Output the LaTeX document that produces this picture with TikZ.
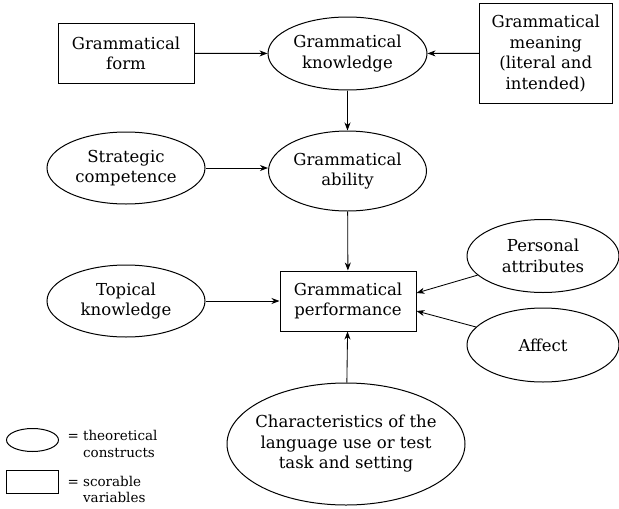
\documentclass[tikz,border=0pt]{standalone}
\usepackage{fontspec}
\setmainfont{DejaVu Serif}
\usetikzlibrary{shapes.geometric,arrows.meta}
\begin{document}
\begin{tikzpicture}[x=1pt,y=-1pt,
  every node/.style={font=\fontsize{16.5}{20.5}\selectfont, align=center, line width=1pt},
  constructell/.style={draw, ellipse, inner sep=0pt},
  scorebox/.style={draw, rectangle, inner sep=0pt},
  arr/.style={-{Stealth[length=8pt,width=6pt,inset=2.5pt]}, line width=0.85pt},
  legendtext/.style={font=\fontsize{13.5}{16.5}\selectfont, align=left, anchor=base west, inner sep=0pt}]
\useasboundingbox (0,0) rectangle (619,509);

% top row
\node[scorebox, minimum width=136pt, minimum height=60pt] (form) at (126,53.3) {Grammatical\\form};
\node[constructell, minimum width=159pt, minimum height=73pt] (know) at (347.5,53.5) {Grammatical\\knowledge};
\node[scorebox, minimum width=133pt, minimum height=100pt] (mean) at (545.8,53.3) {Grammatical\\meaning\\(literal and\\intended)};

% second row
\node[constructell, minimum width=158pt, minimum height=72pt] (strat) at (126,168) {Strategic\\competence};
\node[constructell, minimum width=158pt, minimum height=80pt] (abil) at (347.5,171) {Grammatical\\ability};

% third row
\node[constructell, minimum width=158pt, minimum height=72pt] (topic) at (126,301) {Topical\\knowledge};
\node[scorebox, minimum width=136pt, minimum height=60pt] (perf) at (348,301) {Grammatical\\performance};
\node[constructell, minimum width=152pt, minimum height=73pt] (pers) at (543,256) {Personal\\attributes};
\node[constructell, minimum width=152pt, minimum height=74pt] (aff) at (543,345) {Affect};

% bottom
\node[constructell, inner xsep=-10pt, minimum width=238pt, minimum height=122pt] (task) at (346,444)
  {Characteristics of the\\language use or test\\task and setting};

% connectors
\draw[arr] (form) -- (know);
\draw[arr] (mean) -- (know);
\draw[arr] (know) -- (abil);
\draw[arr] (strat.east) -- (strat.east -| abil.west);
\draw[arr] (abil) -- (perf);
\draw[arr] (topic) -- (perf);
\coordinate (pin1) at ([yshift=8pt]perf.east);
\coordinate (pin2) at ([yshift=-10pt]perf.east);
\draw[arr] (pers) -- (pin1);
\draw[arr] (aff) -- (pin2);
\draw[arr] (task) -- (perf);

% legend
\node[constructell, minimum width=52pt, minimum height=23pt] (keyell) at (32.5,440) {};
\node[scorebox, minimum width=52pt, minimum height=23pt] (keyrect) at (32.2,482) {};
\node[legendtext] (keyelltext) at (67,440.5) {= \begin{tabular}[t]{@{}l@{}}theoretical\\constructs\end{tabular}};
\node[legendtext] (keyrecttext) at (67,486) {= \begin{tabular}[t]{@{}l@{}}scorable\\variables\end{tabular}};
\end{tikzpicture}
\end{document}
